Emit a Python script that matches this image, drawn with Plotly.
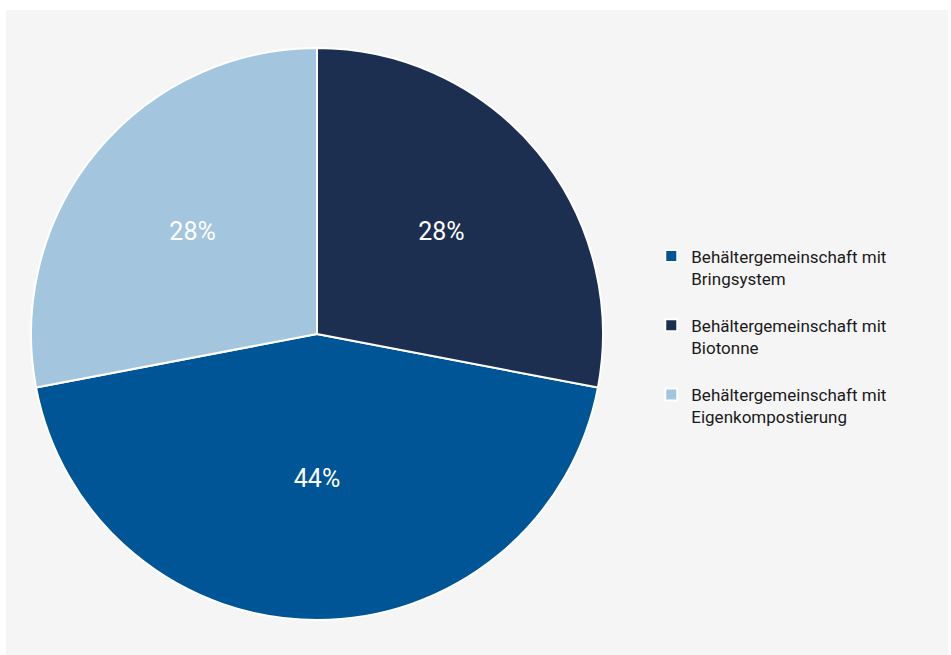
import plotly.graph_objects as go

# Share of households by container arrangement
labels = [
    "Behältergemeinschaft mit<br>Bringsystem<br> ",
    "Behältergemeinschaft mit<br>Biotonne<br> ",
    "Behältergemeinschaft mit<br>Eigenkompostierung",
]
values = [44, 28, 28]
colors = ["#005596", "#1c2f50", "#a3c6de"]

W, H = 951, 655
ml, mt, mr, mb = 6, 10, 3, 0
pw, ph = W - ml - mr, H - mt - mb

fig = go.Figure(
    go.Pie(
        labels=labels,
        values=values,
        sort=False,
        direction="counterclockwise",
        rotation=values[1] / sum(values) * 360,
        marker=dict(colors=colors, line=dict(color="white", width=2)),
        texttemplate="%{percent:.0%}",
        textposition="inside",
        insidetextfont=dict(color="white", size=25, family="Roboto"),
        hoverinfo="label+percent",
        domain=dict(
            x=[(31 - ml) / pw, (603 - ml) / pw],
            y=[(H - 621) / ph, (H - 47) / ph],
        ),
    )
)

fig.update_layout(
    width=W,
    height=H,
    margin=dict(l=ml, r=mr, t=mt, b=mb, autoexpand=False),
    paper_bgcolor="white",
    font=dict(family="Roboto", color="#1a1a1a"),
    showlegend=True,
    legend=dict(
        x=0.685,
        y=0.494,
        xanchor="left",
        yanchor="middle",
        valign="top",
        font=dict(size=17, family="Roboto", color="#1a1a1a"),
        bgcolor="rgba(0,0,0,0)",
    ),
    shapes=[
        dict(
            type="rect", xref="paper", yref="paper",
            x0=0, x1=1, y0=0, y1=1,
            fillcolor="#f5f5f5", line=dict(width=0), layer="below",
        )
    ],
)

fig.write_html("out.html")
